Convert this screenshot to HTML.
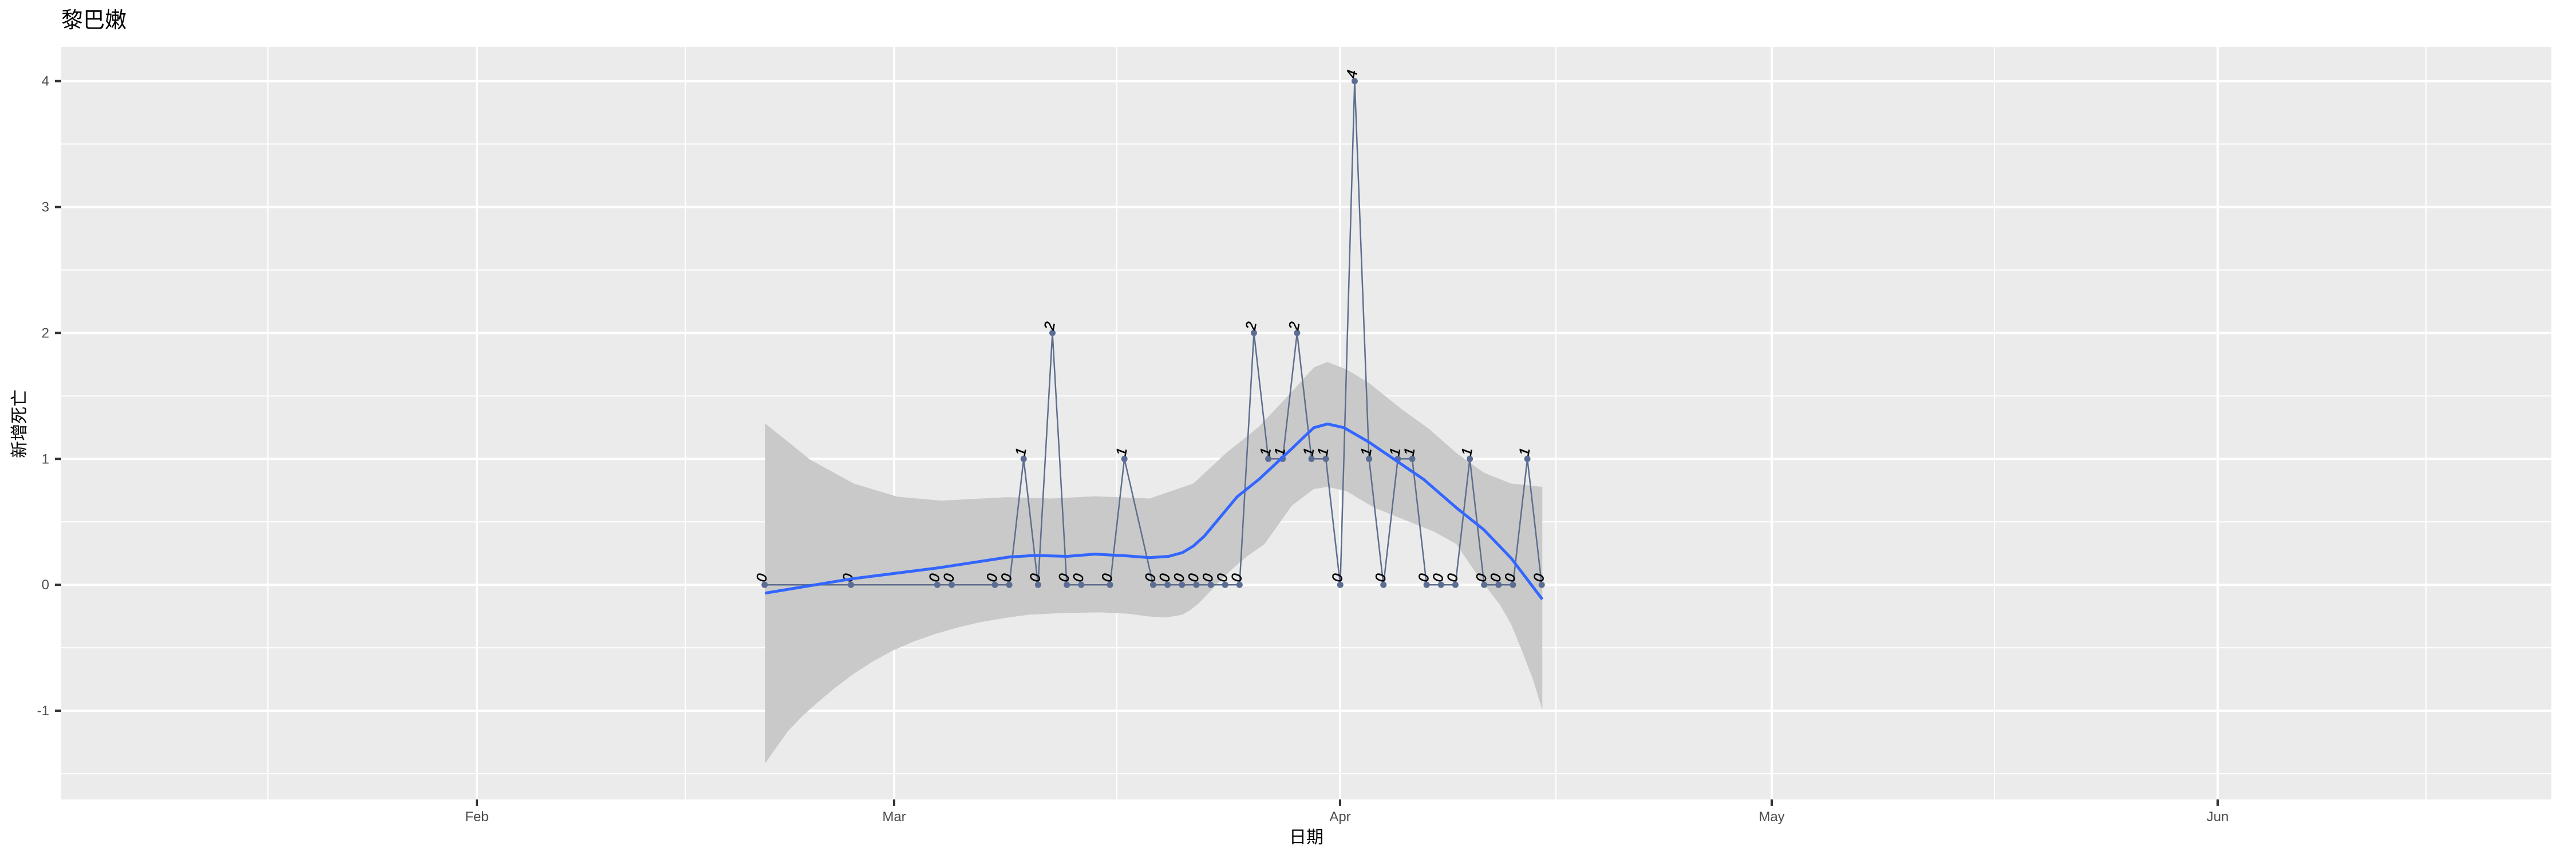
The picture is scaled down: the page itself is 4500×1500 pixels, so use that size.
<!DOCTYPE html>
<html><head><meta charset="utf-8"><style>
body{margin:0;background:#fff}
svg{display:block}
text{font-family:"Liberation Sans","Noto Sans CJK SC",sans-serif}
</style></head><body>
<svg id="s" width="4500" height="1500" xmlns="http://www.w3.org/2000/svg"></svg>
<script>
const s=document.getElementById('s');
const L=107,R=4457,T=82,B=1396;
const Y=v=>1021.2-219.9*v;
const X=d=>1335.7+25.14*d;
let h='';
h+=`<rect width="4500" height="1500" fill="#fff"/>`;
h+=`<rect x="${L}" y="${T}" width="${R-L}" height="${B-T}" fill="#EBEBEB"/>`;
for(let v=-1.5;v<=4;v+=1){h+=`<line x1="${L}" x2="${R}" y1="${Y(v)}" y2="${Y(v)}" stroke="#fff" stroke-width="2"/>`;}
[468,1197,1951,2718,3484,4238].forEach(x=>h+=`<line x1="${x}" x2="${x}" y1="${T}" y2="${B}" stroke="#fff" stroke-width="2"/>`);
for(let v=-1;v<=4;v++){h+=`<line x1="${L}" x2="${R}" y1="${Y(v)}" y2="${Y(v)}" stroke="#fff" stroke-width="4"/>`;
h+=`<line x1="96" x2="${L}" y1="${Y(v)}" y2="${Y(v)}" stroke="#333" stroke-width="4"/>`;
h+=`<text x="86" y="${Y(v)+8}" font-size="24" fill="#4D4D4D" text-anchor="end">${v}</text>`;}
const months=[['Feb',833],['Mar',1562],['Apr',2341],['May',3095],['Jun',3874]];
months.forEach(([m,x])=>{h+=`<line x1="${x}" x2="${x}" y1="${T}" y2="${B}" stroke="#fff" stroke-width="4"/>`;
h+=`<line x1="${x}" x2="${x}" y1="${B}" y2="${B+11}" stroke="#333" stroke-width="4"/>`;
h+=`<text x="${x}" y="${B+38}" font-size="24" fill="#4D4D4D" text-anchor="middle">${m}</text>`;});
const cz=([zx,zy])=>[1300+zx/1.045,500+zy/2.613];
const cz2=([zx,zy])=>[1300+zx/1.045,950+zy/3];
const up=[[38,625],[120,790],[200,900],[280,960],[360,978],[480,962],[560,968],[640,958],[740,968],[820,900],[880,760],[940,640],[1000,480],[1040,370],[1065,345],[1100,380],[1140,440],[1200,560],[1250,650],[1300,760],[1350,850],[1400,900],[1457,915]].map(cz);
const lo=[[38,1150],[60,1060],[80,980],[105,905],[130,840],[165,755],[200,680],[235,615],[270,560],[310,510],[350,470],[390,437],[430,410],[475,388],[520,370],[580,362],[650,358],[700,365],[740,380],[770,385],[800,370],[815,345],[830,310],[850,250],[870,190],[895,120],[920,60],[950,0]].map(cz2)
 .concat([[1000,1000],[1040,925],[1065,915],[1100,935],[1150,1010],[1200,1060],[1260,1120]].map(cz))
 .concat([[1300,0],[1340,170],[1380,320],[1400,420],[1420,560],[1440,710],[1457,870]].map(cz2));
h+=`<polygon fill="#C9C9C9" points="${up.map(p=>p.join(',')).join(' ')} ${lo.slice().reverse().map(p=>p.join(',')).join(' ')}"/>`;
const days=[0,6,12,13,16,17,18,19,20,21,22,24,25,27,28,29,30,31,32,33,34,35,36,37,38,39,40,41,42,43,44,45,46,47,48,49,50,51,52,53,54];
const vals=[0,0,0,0,0,0,1,0,2,0,0,0,1,0,0,0,0,0,0,0,2,1,1,2,1,1,0,4,1,0,1,1,0,0,0,1,0,0,0,1,0];
const pts=days.map((d,i)=>[X(d),Y(vals[i])]);
h+=`<polyline fill="none" stroke="#5E6E8E" stroke-width="2.5" points="${pts.map(p=>p.join(',')).join(' ')}"/>`;
pts.forEach((p,i)=>{h+=`<circle cx="${p[0]}" cy="${p[1]}" r="5.5" fill="#5B6D94"/>`;
h+=`<text transform="translate(${p[0]+2},${p[1]-4}) rotate(-80)" font-size="25" fill="#000" stroke="#000" stroke-width="0.6" font-style="italic">${vals[i]}</text>`;});
const sm=[[38,1400],[195,1335],[353,1285],[484,1235],[530,1228],[590,1232],[640,1222],[700,1230],[740,1238],[775,1232],[800,1215],[820,1185],[840,1140],[870,1050],[900,960],[940,880],[970,810],[1000,740],[1025,680],[1040,645],[1065,628],[1095,645],[1140,710],[1190,795],[1240,880],[1300,1010],[1350,1110],[1400,1240],[1457,1428]].map(cz);
h+=`<polyline fill="none" stroke="#3366FF" stroke-width="5" stroke-linejoin="round" points="${sm.map(p=>p.join(',')).join(' ')}"/>`;
h+=`<text x="107" y="48" font-size="38" fill="#000">黎巴嫩</text>`;
h+=`<text x="${(L+R)/2}" y="1472" font-size="30" fill="#000" text-anchor="middle">日期</text>`;
h+=`<text transform="translate(44,740) rotate(-90)" font-size="30" fill="#000" text-anchor="middle">新增死亡</text>`;
s.innerHTML=h;
</script>
</body></html>
